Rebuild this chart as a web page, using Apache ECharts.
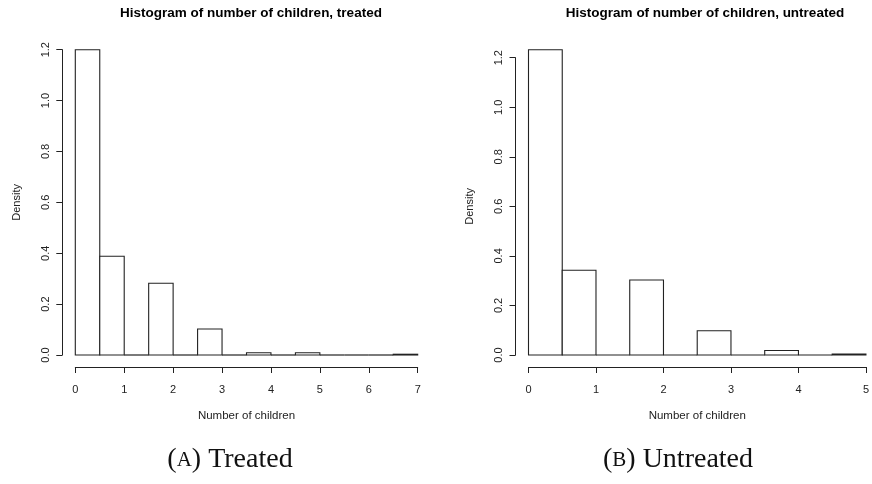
<!DOCTYPE html>
<html>
<head>
<meta charset="utf-8">
<script src="https://cdn.jsdelivr.net/npm/echarts@6/dist/echarts.min.js"></script>
<style>
html,body{margin:0;padding:0;background:#fff;}
#chart{width:872px;height:484px;}
</style>
</head>
<body>
<div id="chart"></div>
<script>
// Histogram bin edges (step 0.5) and densities
const treatedBreaks = [0, 0.5, 1, 1.5, 2, 2.5, 3, 3.5, 4, 4.5, 5, 5.5, 6, 6.5, 7];
const treatedDensity = [1.2, 0.388, 0, 0.282, 0, 0.102, 0, 0.009, 0, 0.009, 0, 0, 0, 0.003];
const untreatedBreaks = [0, 0.5, 1, 1.5, 2, 2.5, 3, 3.5, 4, 4.5, 5];
const untreatedDensity = [1.232, 0.342, 0, 0.303, 0, 0.098, 0, 0.018, 0, 0.004];

const titles = ['Histogram of number of children, treated', 'Histogram of number of children, untreated'];
const xName = 'Number of children';
const yName = 'Density';
const captions = [['A', ' Treated'], ['B', ' Untreated']];

function toBins(breaks, dens) {
  return dens.map((d, i) => [breaks[i], breaks[i + 1], d]);
}

const sans = 'Liberation Sans, Arial, sans-serif';
const serif = 'Liberation Serif, Times New Roman, serif';
const ink = '#222';

function renderHist(params, api) {
  const x0 = api.value(0), x1 = api.value(1), d = api.value(2);
  const p0 = api.coord([x0, 0]);
  const p1 = api.coord([x1, d]);
  if (d === 0) {
    return {
      type: 'line',
      shape: { x1: p0[0], y1: p0[1], x2: p1[0], y2: p0[1] },
      style: { stroke: ink, lineWidth: 1.2 }
    };
  }
  return {
    type: 'rect',
    shape: { x: p0[0], y: p1[1], width: p1[0] - p0[0], height: p0[1] - p1[1] },
    style: { fill: '#fff', stroke: ink, lineWidth: 1.1 }
  };
}

function xAxisDef(grid, max) {
  return {
    type: 'value', gridIndex: grid, min: 0, max: max, interval: 1, offset: 12,
    axisLine: { show: true, onZero: false, lineStyle: { color: ink, width: 1 } },
    axisTick: { show: true, length: 6, lineStyle: { color: ink } },
    splitLine: { show: false },
    axisLabel: { fontFamily: sans, fontSize: 11, color: ink, margin: 17, showMaxLabel: true },
    name: xName, nameLocation: 'middle', nameGap: 43,
    nameTextStyle: { fontFamily: sans, fontSize: 11.5, color: ink }
  };
}
function yAxisDef(grid) {
  return {
    type: 'value', gridIndex: grid, min: 0, max: 1.2, interval: 0.2, offset: 13,
    axisLine: { show: true, onZero: false, lineStyle: { color: ink, width: 1 } },
    axisTick: { show: true, length: 6, lineStyle: { color: ink } },
    splitLine: { show: false },
    axisLabel: { fontFamily: sans, fontSize: 11, color: ink, margin: 11, rotate: 90,
                 formatter: v => v.toFixed(1) },
    name: yName, nameLocation: 'middle', nameGap: 40, nameRotate: 90,
    nameTextStyle: { fontFamily: sans, fontSize: 11, color: ink }
  };
}

const chart = echarts.init(document.getElementById('chart'), null, { renderer: 'canvas' });
chart.setOption({
  backgroundColor: '#fff',
  animation: false,
  title: [
    { text: titles[0], left: 246, top: 1, textAlign: 'center',
      textStyle: { fontFamily: sans, fontSize: 13.5, fontWeight: 'bold', color: '#000' } },
    { text: titles[1], left: 700, top: 1, textAlign: 'center',
      textStyle: { fontFamily: sans, fontSize: 13.5, fontWeight: 'bold', color: '#000' } }
  ],
  grid: [
    { left: 75.3, top: 49.7, width: 342.4, height: 305.3 },
    { left: 528.5, top: 57.7, width: 343, height: 297.3 }
  ],
  xAxis: [xAxisDef(0, 7), xAxisDef(1, 5)],
  yAxis: [yAxisDef(0), yAxisDef(1)],
  graphic: [0, 1].map(i => ({
    type: 'text', x: i === 0 ? 230 : 678, y: 460,
    style: {
      text: '(' + '{sc|' + captions[i][0] + '}' + ')' + captions[i][1],
      textAlign: 'center', textVerticalAlign: 'middle', verticalAlign: 'middle', align: 'center',
      fontFamily: serif, fontSize: 28, fill: '#111',
      rich: { sc: { fontFamily: serif, fontSize: 21, fill: '#111' } }
    }
  })),
  series: [
    { type: 'custom', xAxisIndex: 0, yAxisIndex: 0, clip: false,
      data: toBins(treatedBreaks, treatedDensity), renderItem: renderHist,
      encode: { x: [0, 1], y: 2 } },
    { type: 'custom', xAxisIndex: 1, yAxisIndex: 1, clip: false,
      data: toBins(untreatedBreaks, untreatedDensity), renderItem: renderHist,
      encode: { x: [0, 1], y: 2 } }
  ]
});
</script>
</body>
</html>
